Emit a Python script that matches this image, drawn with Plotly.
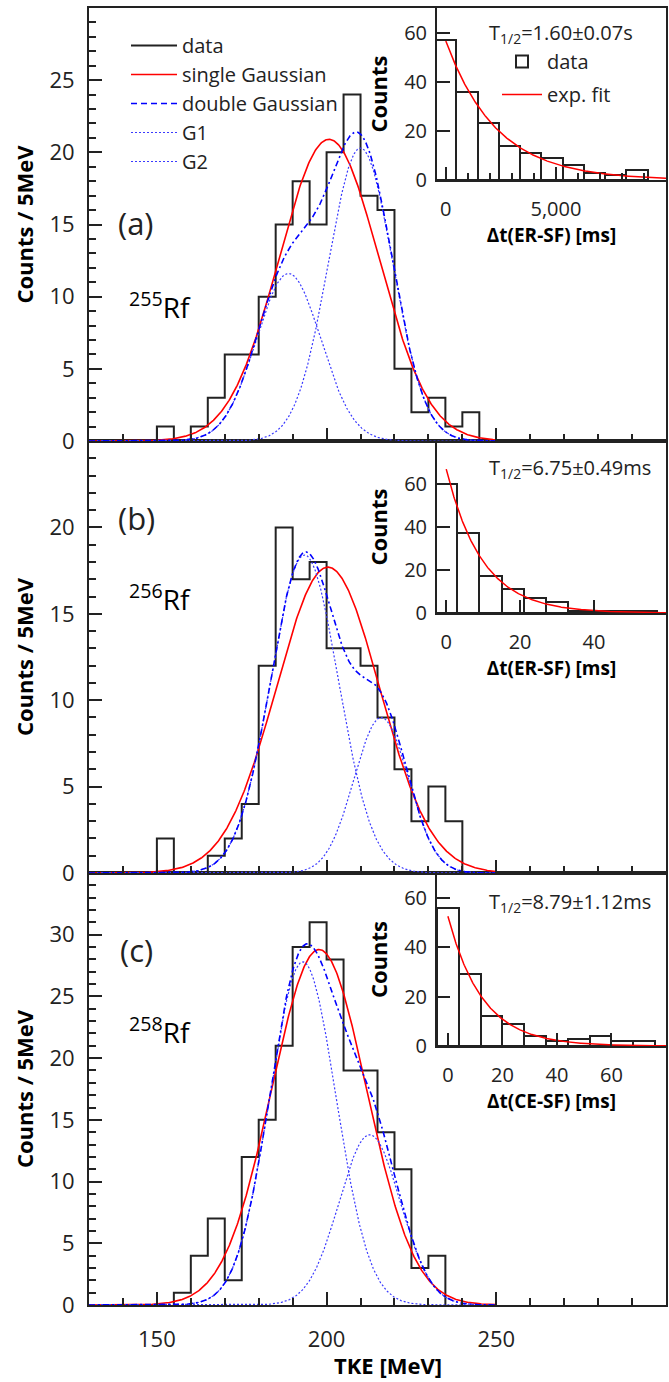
import numpy as np
import plotly.graph_objects as go

# ---------------- data ----------------
tke_bin_width = 5
tke_start_a = 150
counts_a = [1, 0, 1, 3, 6, 6, 10, 15, 18, 15, 20, 24, 17, 16, 5, 2, 3, 1, 2]
tke_start_b = 150
counts_b = [2, 0, 0, 1, 2, 4, 12, 20, 17, 18, 13, 13, 12, 9, 6, 3, 5, 3]
tke_start_c = 155
counts_c = [1, 4, 7, 2, 12, 15, 21, 29, 31, 28, 19, 19, 14, 11, 3, 4]

# Gaussian fit parameters: [amplitude, mean (MeV), sigma (MeV)]
single_a = [20.9, 200.7, 14.7]
g1_a = [11.6, 188.8, 9.5]
g2_a = [20.3, 210.0, 9.5]
single_b = [17.7, 200.4, 15.2]
g1_b = [18.4, 193.5, 10.0]
g2_b = [9.0, 216.1, 8.0]
single_c = [28.8, 197.8, 14.0]
g1_c = [27.8, 193.0, 9.8]
g2_c = [13.8, 212.7, 9.0]
fit_range = [130, 250]

# decay-time insets
dt_a = [0, 965, 1930, 2895, 3860, 4825, 5790, 6755, 7720, 8685]   # ms, bin centres
dt_counts_a = [57, 36, 23, 14, 11, 9, 6, 3, 2, 4]
dt_width_a = 965
dt_b = [0, 6, 12, 18, 24, 30, 36, 42, 48, 54]
dt_counts_b = [60, 37, 17, 11, 7, 5, 1, 1, 1, 1]
dt_width_b = 6
dt_c = [0, 8, 16, 24, 32, 40, 48, 56, 64, 72]
dt_counts_c = [56, 29, 12, 9, 4, 2, 3, 4, 2, 2]
dt_width_c = 8
# exponential fits: [amplitude at t=0, half-life]
exp_a = [56.6, 1600.0]
exp_b = [66.9, 6.75]
exp_c = [52.5, 8.79]
half_life_text = ["T<sub>1/2</sub>=1.60±0.07s", "T<sub>1/2</sub>=6.75±0.49ms", "T<sub>1/2</sub>=8.79±1.12ms"]
inset_xtitles = ["Δt(ER-SF) [ms]", "Δt(ER-SF) [ms]", "Δt(CE-SF) [ms]"]
panel_labels = ["(a)", "(b)", "(c)"]
isotopes = ["<sup>255</sup>Rf", "<sup>256</sup>Rf", "<sup>258</sup>Rf"]

# ---------------- layout geometry ----------------
W, H = 669, 1382
ML, MR, MT, MB = 89, 3, 8, 77
PW, PH = W - ML - MR, H - MT - MB


def fx(px):
    return (px - ML) / PW


def fy(py):
    return (H - MB - py) / PH


FONT = "Open Sans"
INK = "#222222"
RED = "#ff0000"
BLUE = "#0000ff"
LBLUE = "#3a3aff"


def gauss(p, x):
    return p[0] * np.exp(-0.5 * ((x - p[1]) / p[2]) ** 2)


def step_xy(start, counts, width):
    edges = start + width * np.arange(len(counts) + 1)
    xs = np.concatenate([[edges[0]], edges])
    ys = np.concatenate([[0], counts, [0]])
    return xs, ys


fig = go.Figure()
xg = np.linspace(fit_range[0], fit_range[1], 600)

panels = [
    ("x3", "y3", tke_start_a, counts_a, single_a, g1_a, g2_a),
    ("x2", "y2", tke_start_b, counts_b, single_b, g1_b, g2_b),
    ("x", "y", tke_start_c, counts_c, single_c, g1_c, g2_c),
]

for i, (xa, ya, start, counts, sg, g1, g2) in enumerate(panels):
    leg = i == 0
    xs, ys = step_xy(start, counts, tke_bin_width)
    fig.add_trace(go.Scatter(x=xs, y=ys, mode="lines", line=dict(color=INK, width=2, shape="hv"),
                             name="data", showlegend=leg, xaxis=xa, yaxis=ya))
    fig.add_trace(go.Scatter(x=xg, y=gauss(sg, xg), mode="lines", line=dict(color=RED, width=1.6),
                             name="single Gaussian", showlegend=leg, xaxis=xa, yaxis=ya))
    if leg:
        fig.add_trace(go.Scatter(x=[None], y=[None], mode="lines", line=dict(color=BLUE, width=1.6, dash="6px,4px"),
                                 name="double Gaussian", showlegend=True, xaxis=xa, yaxis=ya))
    fig.add_trace(go.Scatter(x=xg, y=gauss(g1, xg), mode="lines", line=dict(color=LBLUE, width=1.2, dash="2px,2px"),
                             name="G1", showlegend=leg, xaxis=xa, yaxis=ya))
    fig.add_trace(go.Scatter(x=xg, y=gauss(g2, xg), mode="lines", line=dict(color=LBLUE, width=1.2, dash="2px,2px"),
                             name="G2", showlegend=leg, xaxis=xa, yaxis=ya))
    fig.add_trace(go.Scatter(x=xg, y=gauss(g1, xg) + gauss(g2, xg), mode="lines",
                             line=dict(color=BLUE, width=1.6, dash="6px,3px,2px,3px"),
                             name="double Gaussian", showlegend=False, xaxis=xa, yaxis=ya))

insets = [
    ("x4", "y4", dt_a, dt_counts_a, dt_width_a, exp_a, 10000),
    ("x5", "y5", dt_b, dt_counts_b, dt_width_b, exp_b, 59.5),
    ("x6", "y6", dt_c, dt_counts_c, dt_width_c, exp_c, 80),
]
for i, (xa, ya, xc, cnt, wid, ex, xmax) in enumerate(insets):
    leg = i == 0
    fig.add_trace(go.Bar(x=xc, y=cnt, width=wid, marker=dict(color="white", line=dict(color=INK, width=2)),
                         name="data", showlegend=leg, legend="legend2", legendgroup="d",
                         xaxis=xa, yaxis=ya))
    te = np.linspace(0, xmax, 400)
    fig.add_trace(go.Scatter(x=te, y=ex[0] * np.exp(-np.log(2) * te / ex[1]), mode="lines",
                             line=dict(color=RED, width=1.5), name="exp. fit", showlegend=leg,
                             legend="legend2", legendgroup="f", xaxis=xa, yaxis=ya))

# ---------------- axes ----------------
panel_px = [(8, 441), (441, 873), (873, 1305)]
yranges = [[0, 30], [0, 25], [0, 35]]
ymajors = [list(range(0, 30, 5)), list(range(0, 25, 5)), list(range(0, 35, 5))]
tickfont = dict(family=FONT, size=22, color=INK)

layout = dict(
    width=W, height=H, margin=dict(l=ML, r=MR, t=MT, b=MB, autoexpand=False),
    paper_bgcolor="white", plot_bgcolor="rgba(0,0,0,0)",
    font=dict(family=FONT, color=INK),
    bargap=0, barmode="overlay",
)

xnames = ["xaxis3", "xaxis2", "xaxis"]
ynames = ["yaxis3", "yaxis2", "yaxis"]
yanchors = ["y3", "y2", "y"]
xanchors = ["x3", "x2", "x"]
for i in range(3):
    top, bot = panel_px[i]
    layout[xnames[i]] = dict(
        domain=[0, 1], anchor=yanchors[i], range=[130, 300], matches=None if i == 2 else "x",
        tickmode="array", tickvals=[150, 200, 250, 300], ticks="inside", ticklen=13, tickwidth=1.5,
        tickcolor=INK, minor=dict(tickmode="array", tickvals=list(range(130, 301, 10)), ticks="inside",
                                  ticklen=7, tickwidth=1.5, tickcolor=INK),
        showline=True, linewidth=2, linecolor=INK, mirror=True, showgrid=False, zeroline=False,
        showticklabels=(i == 2), tickfont=tickfont, ticklabelstandoff=14, automargin=False,
    )
    layout[ynames[i]] = dict(
        domain=[fy(bot), fy(top)], anchor=xanchors[i], range=yranges[i],
        tickmode="array", tickvals=ymajors[i], ticks="inside", ticklen=13, tickwidth=1.5, tickcolor=INK,
        minor=dict(tickmode="array", tickvals=list(range(yranges[i][0], yranges[i][1])), ticks="inside",
                   ticklen=7, tickwidth=1.5, tickcolor=INK),
        showline=True, linewidth=2, linecolor=INK, mirror=True, showgrid=False, zeroline=False,
        tickfont=tickfont, ticklabelstandoff=8, automargin=False,
        title=dict(text="<b>Counts / 5MeV</b>", font=dict(family=FONT, size=22, color="black"), standoff=10),
    )

inset_bottoms = [180, 613, 1046]
inset_tops = [8, 441, 873]
inset_xr = [[-400, 10000], [-2.5, 59.5], [-4, 80]]
inset_yr = [[0, 70], [0, 80], [0, 70]]
inset_major = [[0, 5000], [0, 20, 40], [0, 20, 40, 60]]
inset_minor = [list(range(0, 10001, 1000)), [], []]
for i in range(3):
    k = i + 4
    layout[f"xaxis{k}"] = dict(
        domain=[fx(437), 1], anchor=f"y{k}", range=inset_xr[i],
        tickmode="array", tickvals=inset_major[i], tickformat=",d", ticks="inside", ticklen=13, tickwidth=1.5,
        tickcolor=INK,
        minor=dict(tickmode="array", tickvals=inset_minor[i], ticks="inside", ticklen=7, tickwidth=1.5,
                   tickcolor=INK),
        showline=True, linewidth=2, linecolor=INK, showgrid=False, zeroline=False,
        tickfont=dict(family=FONT, size=20, color=INK), ticklabelstandoff=10, automargin=False,
        title=dict(text=f"<b>{inset_xtitles[i]}</b>", font=dict(family=FONT, size=19, color="black"), standoff=1),
    )
    layout[f"yaxis{k}"] = dict(
        domain=[fy(inset_bottoms[i]), fy(inset_tops[i])], anchor=f"x{k}", range=inset_yr[i],
        tickmode="array", tickvals=[0, 20, 40, 60], ticks="inside", ticklen=13, tickwidth=1.5, tickcolor=INK,
        showline=True, linewidth=2, linecolor=INK, showgrid=False, zeroline=False,
        tickfont=dict(family=FONT, size=20, color=INK), ticklabelstandoff=4, automargin=False,
        title=dict(text="<b>Counts</b>", font=dict(family=FONT, size=22, color="black"), standoff=10),
    )

layout["legend"] = dict(x=fx(126), y=fy(26), xanchor="left", yanchor="top", bgcolor="rgba(0,0,0,0)",
                        font=dict(family=FONT, size=20, color=INK), itemwidth=46, tracegroupgap=0)
layout["legend2"] = dict(x=fx(497), y=fy(42), xanchor="left", yanchor="top", bgcolor="rgba(0,0,0,0)",
                         font=dict(family=FONT, size=20, color=INK), itemwidth=40, tracegroupgap=4,
                         traceorder="grouped")

annotations = []
lab_y = [223, 518, 950]
iso_y = [305, 597, 1030]
t_y = [33, 468, 902]
for i in range(3):
    annotations.append(dict(text=panel_labels[i], x=fx(136), y=fy(lab_y[i]), xref="paper", yref="paper",
                            xanchor="center", yanchor="middle",
                            showarrow=False, font=dict(family=FONT, size=31, color=INK)))
    annotations.append(dict(text=isotopes[i], x=fx(127), y=fy(iso_y[i]), xref="paper", yref="paper",
                            xanchor="left", yanchor="middle",
                            showarrow=False, font=dict(family=FONT, size=28, color="black")))
    annotations.append(dict(text=half_life_text[i], x=fx(487), y=fy(t_y[i]), xref="paper", yref="paper",
                            xanchor="left", yanchor="middle",
                            showarrow=False, font=dict(family=FONT, size=20, color=INK)))
# x-axis title of the bottom panel
annotations.append(dict(text="<b>TKE [MeV]</b>", x=fx(388), y=fy(1365), xref="paper", yref="paper",
                        xanchor="center", yanchor="middle", showarrow=False,
                        font=dict(family=FONT, size=22, color="black")))
layout["annotations"] = annotations

fig.update_layout(**layout)
fig.write_html("out.html", post_script="document.body.style.margin='0px';",
               config={"displayModeBar": False})
